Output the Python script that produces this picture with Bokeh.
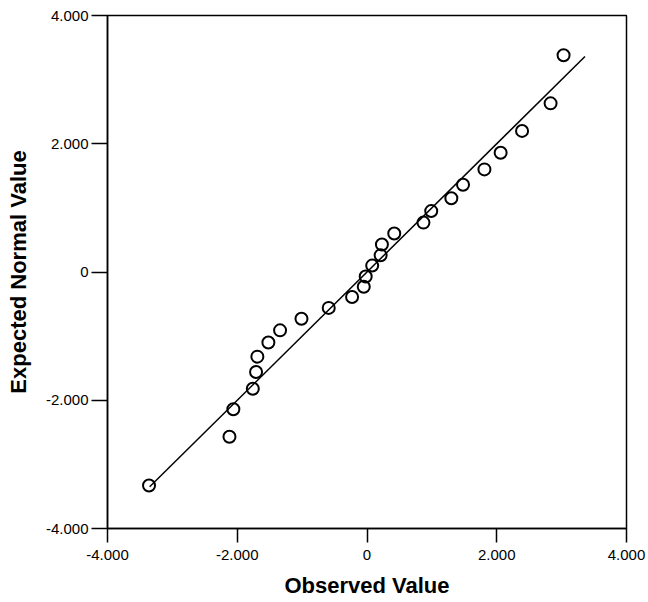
from bokeh.plotting import figure
from bokeh.models import FixedTicker, Range1d
from bokeh.embed import file_html
from bokeh.resources import INLINE

observed = [-3.36, -2.12, -2.06, -1.76, -1.71, -1.69, -1.52, -1.34, -1.01, -0.59,
            -0.23, -0.05, -0.02, 0.08, 0.21, 0.23, 0.42, 0.87, 0.99, 1.30,
            1.48, 1.81, 2.06, 2.39, 2.83, 3.03]
expected = [-3.33, -2.57, -2.14, -1.82, -1.56, -1.32, -1.10, -0.91, -0.73, -0.56,
            -0.39, -0.23, -0.07, 0.10, 0.26, 0.43, 0.60, 0.77, 0.95, 1.15,
            1.36, 1.60, 1.86, 2.20, 2.63, 3.38]
# reference line y = x
line_x = [-3.35, 3.36]
line_y = [-3.35, 3.36]

ticks = [-4, -2, 0, 2, 4]
tick_labels = {-4: "-4.000", -2: "-2.000", 0: "0", 2: "2.000", 4: "4.000"}

p = figure(width=648, height=602,
           min_border_left=107, min_border_top=15, min_border_right=22, min_border_bottom=74,
           x_range=Range1d(-4, 4), y_range=Range1d(-4, 4),
           output_backend="svg", toolbar_location=None,
           background_fill_color="white", border_fill_color="white")

p.line(line_x, line_y, line_color="black", line_width=1.5)
p.scatter(observed, expected, marker="circle", size=12, fill_color=None,
          line_color="black", line_width=2)

p.xgrid.visible = False
p.ygrid.visible = False
p.outline_line_color = "black"
p.outline_line_width = 1.5

for ax in (p.xaxis[0], p.yaxis[0]):
    ax.ticker = FixedTicker(ticks=ticks)
    ax.major_label_overrides = tick_labels
    ax.minor_tick_line_color = None
    ax.major_tick_in = 0
    ax.axis_line_color = "black"
    ax.axis_line_width = 1.5
    ax.major_tick_line_width = 1.5
    ax.major_label_text_font = "Liberation Sans"
    ax.major_label_text_font_size = "15px"
    ax.major_label_text_color = "black"
    ax.axis_label_text_font = "Liberation Sans"
    ax.axis_label_text_font_style = "bold"
    ax.axis_label_text_font_size = "22px"
    ax.axis_label_text_color = "black"

p.xaxis.axis_label = "Observed Value"
p.yaxis.axis_label = "Expected Normal Value"
p.xaxis.major_tick_out = 14
p.xaxis.major_label_standoff = 7
p.xaxis.axis_label_standoff = 10
p.yaxis.major_tick_out = 16
p.yaxis.major_label_standoff = 3
p.yaxis.axis_label_standoff = 12

open("out.html", "w").write(file_html(p, INLINE))
